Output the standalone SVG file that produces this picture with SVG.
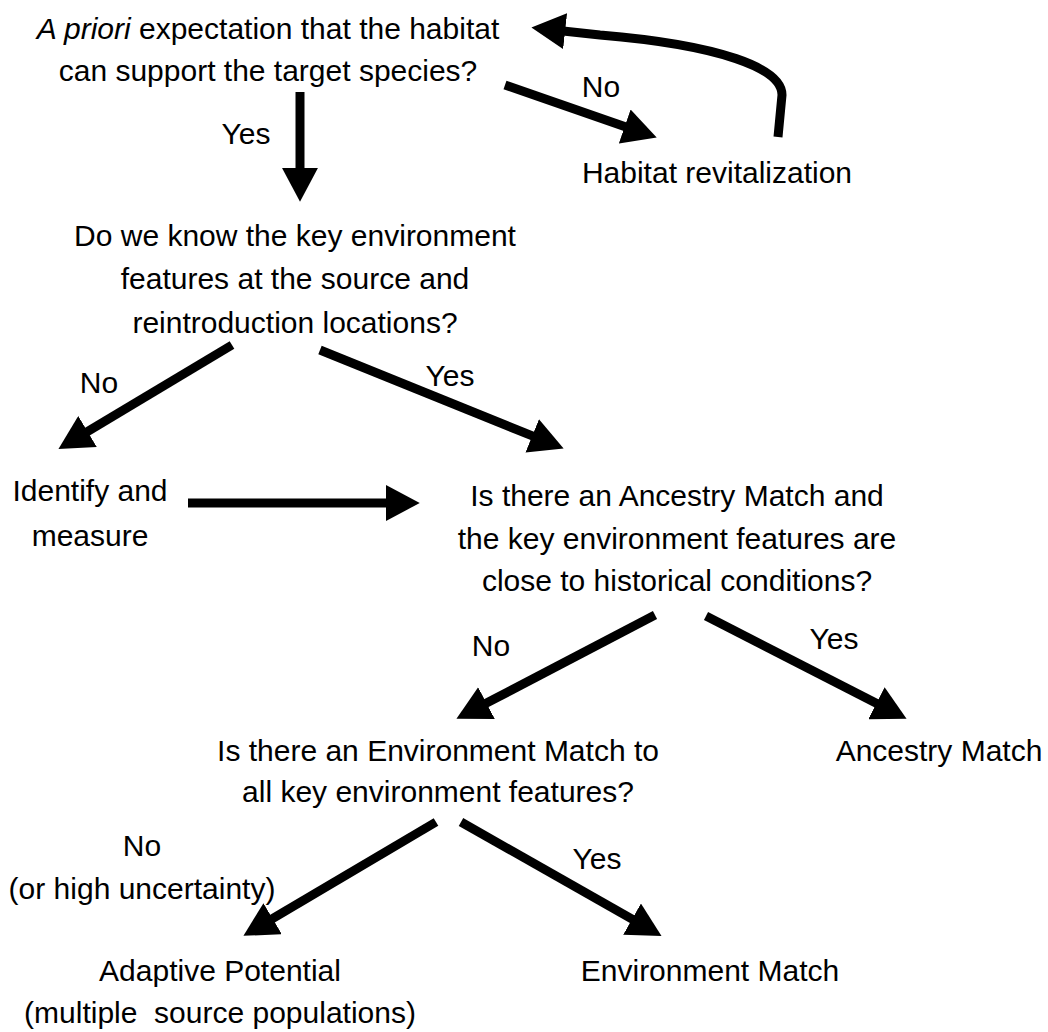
<svg xmlns="http://www.w3.org/2000/svg" width="1048" height="1032" viewBox="0 0 1048 1032">
<style>
text{font-family:"Liberation Sans",Arial,sans-serif;font-size:30px;fill:#000;text-anchor:middle;white-space:pre}
.c{fill:none;stroke:#000;stroke-width:9}
</style>
<defs>
<marker id="ah" markerUnits="userSpaceOnUse" markerWidth="34" markerHeight="36" viewBox="0 0 32 34" refX="2" refY="17" orient="auto">
<path d="M0,0 L32,17 L0,34 Z" fill="#000"/>
</marker>
</defs>
<rect width="1048" height="1032" fill="#fff"/>
<g id="n1"><text x="268" y="39"><tspan font-style="italic">A priori</tspan> expectation that the habitat</text><text x="268" y="81">can support the target species?</text></g>
<g id="n2"><text x="717" y="183">Habitat revitalization</text></g>
<g id="n3"><text x="295" y="246">Do we know the key environment</text><text x="295" y="289">features at the source and</text><text x="295" y="333">reintroduction locations?</text></g>
<g id="n4"><text x="90" y="501">Identify and</text><text x="90" y="546">measure</text></g>
<g id="n5"><text x="677" y="506">Is there an Ancestry Match and</text><text x="677" y="549">the key environment features are</text><text x="677" y="591">close to historical conditions?</text></g>
<g id="n6"><text x="438" y="761">Is there an Environment Match to</text><text x="438" y="802">all key environment features?</text></g>
<g id="n7"><text x="939" y="761">Ancestry Match</text></g>
<g id="n8"><text x="220" y="981">Adaptive Potential</text><text x="220" y="1023">(multiple  source populations)</text></g>
<g id="n9"><text x="710" y="981">Environment Match</text></g>
<g id="connectors">
<line class="c" x1="300" y1="92" x2="300" y2="170" marker-end="url(#ah)"/>
<line class="c" x1="505" y1="85" x2="626.7" y2="127.2" marker-end="url(#ah)"/>
<path class="c" d="M778,137 L782,95 C782,68 720,45 600,35 L563,31" marker-end="url(#ah)"/>
<line class="c" x1="232" y1="345" x2="85.7" y2="432.6" marker-end="url(#ah)"/>
<line class="c" x1="320" y1="350" x2="534.2" y2="436.7" marker-end="url(#ah)"/>
<line class="c" x1="188" y1="503" x2="388" y2="503" marker-end="url(#ah)"/>
<line class="c" x1="655" y1="615" x2="484.6" y2="704.1" marker-end="url(#ah)"/>
<line class="c" x1="706" y1="616" x2="878.3" y2="704.3" marker-end="url(#ah)"/>
<line class="c" x1="436" y1="822" x2="270.8" y2="919.7" marker-end="url(#ah)"/>
<line class="c" x1="461" y1="822" x2="633.9" y2="920.2" marker-end="url(#ah)"/>
<text x="246" y="144">Yes</text>
<text x="601" y="97">No</text>
<text x="99" y="393">No</text>
<text x="450" y="386">Yes</text>
<text x="491" y="656">No</text>
<text x="834" y="649">Yes</text>
<text x="142" y="856">No</text>
<text x="142" y="899">(or high uncertainty)</text>
<text x="597" y="869">Yes</text>
</g>
</svg>
